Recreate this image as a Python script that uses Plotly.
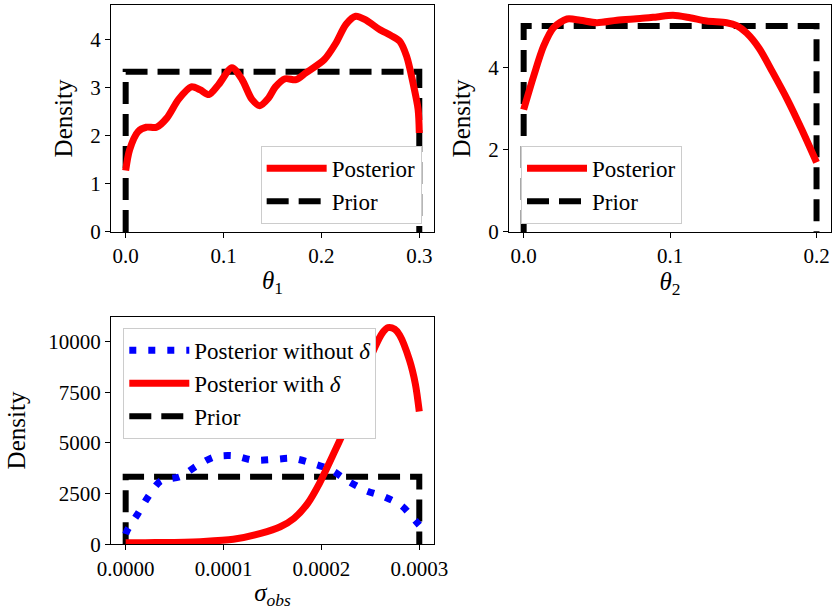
import plotly.graph_objects as go

# ---- theta_1 posterior density and uniform prior on [0, 0.3] ----
theta1_x = [0.0, 0.004, 0.0127, 0.021, 0.0315, 0.042, 0.054, 0.067, 0.076, 0.085,
            0.095, 0.1086, 0.119, 0.129, 0.137, 0.146, 0.153, 0.163, 0.174, 0.184,
            0.203, 0.215, 0.225, 0.235, 0.2456, 0.259, 0.271, 0.280, 0.287, 0.2936,
            0.2988, 0.3]
theta1_post = [1.28, 1.71, 2.09, 2.18, 2.18, 2.37, 2.76, 3.02, 2.96, 2.86,
               3.07, 3.42, 3.17, 2.76, 2.63, 2.79, 3.02, 3.19, 3.17, 3.31,
               3.59, 3.94, 4.32, 4.49, 4.41, 4.22, 4.09, 3.97, 3.66, 3.10,
               2.55, 2.06]
theta1_bounds = [0.0, 0.3]

# ---- theta_2 posterior density and uniform prior on [0, 0.2] ----
theta2_x = [0.0, 0.0068, 0.0136, 0.0204, 0.0296, 0.0387, 0.050, 0.0637, 0.0795, 0.091,
            0.102, 0.1136, 0.125, 0.1386, 0.1455, 0.1523, 0.161, 0.170, 0.180, 0.190,
            0.2]
theta2_post = [2.97, 3.78, 4.51, 4.96, 5.17, 5.14, 5.08, 5.14, 5.18, 5.22,
               5.26, 5.20, 5.12, 5.08, 5.01, 4.83, 4.45, 3.88, 3.22, 2.48,
               1.69]
theta2_bounds = [0.0, 0.2]

# ---- sigma_obs posterior with / without model discrepancy, uniform prior ----
sigma_x_without = [0.0, 0.0000017, 0.0000127, 0.000023, 0.0000357, 0.0000555, 0.0000727,
                   0.0000908, 0.00011, 0.00013, 0.000151, 0.000171, 0.000191, 0.00021,
                   0.000227, 0.000246, 0.000264, 0.000282, 0.000296, 0.0003]
sigma_post_without = [500, 700, 1525, 2345, 3120, 3330, 3870,
                      4315, 4365, 4150, 4185, 4235, 3990, 3660,
                      3120, 2640, 2345, 1900, 1163, 950]
sigma_x_with = [0.0, 0.00002, 0.00004, 0.00006, 0.000076, 0.00011, 0.000138, 0.000158,
                0.000172, 0.000186, 0.000198, 0.000211, 0.000225, 0.000235, 0.000245,
                0.000255, 0.000262, 0.000268, 0.000275, 0.00028, 0.00029, 0.000296,
                0.0003]
sigma_post_with = [80, 82, 88, 100, 128, 246, 542, 867,
                   1280, 2020, 3005, 4315, 5800, 7150, 8550,
                   9750, 10400, 10680, 10600, 10310, 9080, 7900,
                   6550]
sigma_bounds = [0.0, 0.0003]

FONT = "Liberation Serif"
RED = "#ff0000"
BLUE = "#0000ff"


def prior_step(bounds):
    """Uniform prior drawn as a box: up at the lower bound, across, down at the upper."""
    lo, hi = bounds
    dens = 1.0 / (hi - lo)
    return [lo, lo, hi, hi], [0, dens, dens, 0]


fig = go.Figure()

prior_line = dict(color="black", width=6, dash="22px,10px")
post_line = dict(color=RED, width=7, shape="spline", smoothing=0.8)

# panel 1
px, py = prior_step(theta1_bounds)
fig.add_trace(go.Scatter(x=px, y=py, mode="lines", name="Prior", line=prior_line,
                         xaxis="x", yaxis="y", legend="legend", legendrank=2))
fig.add_trace(go.Scatter(x=theta1_x, y=theta1_post, mode="lines", name="Posterior",
                         line=post_line, xaxis="x", yaxis="y", legend="legend",
                         legendrank=1))

# panel 2
px, py = prior_step(theta2_bounds)
fig.add_trace(go.Scatter(x=px, y=py, mode="lines", name="Prior", line=prior_line,
                         xaxis="x2", yaxis="y2", legend="legend2", legendrank=2))
fig.add_trace(go.Scatter(x=theta2_x, y=theta2_post, mode="lines", name="Posterior",
                         line=post_line, xaxis="x2", yaxis="y2", legend="legend2",
                         legendrank=1))

# panel 3
px, py = prior_step(sigma_bounds)
fig.add_trace(go.Scatter(x=px, y=py, mode="lines", name="Prior", line=prior_line,
                         xaxis="x3", yaxis="y3", legend="legend3", legendrank=3))
fig.add_trace(go.Scatter(x=sigma_x_without, y=sigma_post_without, mode="lines",
                         name="Posterior without <i>δ</i>",
                         line=dict(color=BLUE, width=7, dash="7px,12px", shape="spline",
                                   smoothing=0.8),
                         xaxis="x3", yaxis="y3", legend="legend3", legendrank=1))
fig.add_trace(go.Scatter(x=sigma_x_with, y=sigma_post_with, mode="lines",
                         name="Posterior with <i>δ</i>", line=post_line,
                         xaxis="x3", yaxis="y3", legend="legend3", legendrank=2))

tick_font = dict(family=FONT, size=21, color="black")
title_font = dict(family=FONT, size=25, color="black")


def axis(domain, rng, dtick, fmt, title, standoff, anchor):
    return dict(domain=domain, range=rng, dtick=dtick, tick0=0, tickformat=fmt,
                anchor=anchor, automargin=False, showgrid=False, zeroline=False,
                showline=True, linecolor="black", linewidth=1, mirror=True,
                ticks="outside", ticklen=5, tickwidth=1, tickcolor="black",
                tickfont=tick_font,
                title=dict(text=title, font=title_font, standoff=standoff))


legend_common = dict(bgcolor="white", bordercolor="#cccccc", borderwidth=1,
                     font=dict(family=FONT, size=23, color="black"),
                     itemwidth=60, traceorder="normal")

fig.update_layout(
    width=832, height=610,
    margin=dict(l=0, r=0, t=0, b=0),
    paper_bgcolor="white", plot_bgcolor="white",
    xaxis=axis([0.1334, 0.5216], [-0.015, 0.315], 0.1, ".1f",
               "<i>θ</i><sub>1</sub>", 4, "y"),
    yaxis=axis([0.6197, 0.9918], [0, 4.725], 1, "d", "Density", 10, "x"),
    xaxis2=axis([0.6118, 0.999], [-0.01, 0.21], 0.1, ".1f",
                "<i>θ</i><sub>2</sub>", 4, "y2"),
    yaxis2=axis([0.6197, 0.9918], [0, 5.51], 2, "d", "Density", 10, "x2"),
    xaxis3=axis([0.1334, 0.5216], [-0.000015, 0.000315], 0.0001, ".4f",
                "<i>σ</i><sub><i>obs</i></sub>", 3, "y3"),
    yaxis3=axis([0.1077, 0.4808], [0, 11220], 2500, "d", "Density", 15, "x3"),
    legend=dict(x=0.5068, y=0.633, xanchor="right", yanchor="bottom", **legend_common),
    legend2=dict(x=0.6262, y=0.633, xanchor="left", yanchor="bottom", **legend_common),
    legend3=dict(x=0.1482, y=0.4625, xanchor="left", yanchor="top", **legend_common),
)

fig.write_html("out.html")
